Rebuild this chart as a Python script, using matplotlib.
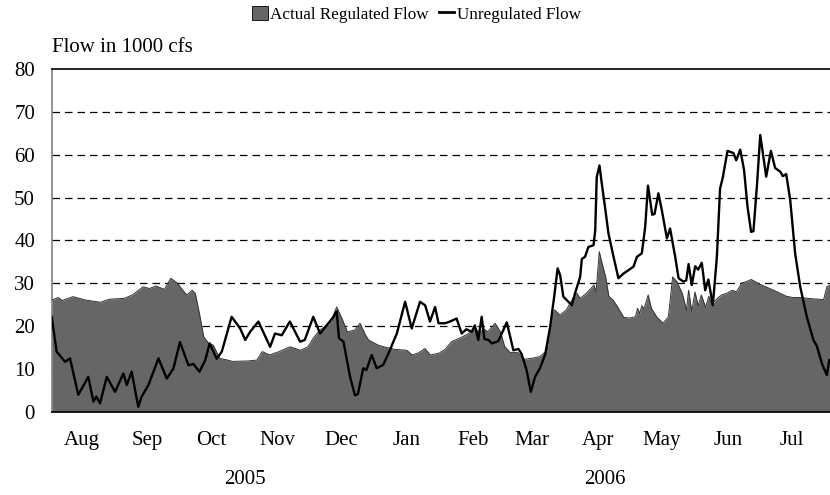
import numpy as np
import pandas as pd
import matplotlib

matplotlib.use("Agg")
import matplotlib.pyplot as plt
import matplotlib.dates as mdates
from matplotlib.patches import Patch
from matplotlib.lines import Line2D

START = mdates.date2num(pd.Timestamp("2005-08-01"))

# Actual regulated flow (1000 cfs); day = days since 1 Aug 2005
reg_day = [0, 3, 5, 10, 16, 23, 27, 34, 38, 43, 46, 49, 53, 56, 59, 61, 63.5, 66,
           67.5, 69.5, 71.5, 74, 76, 79, 82, 85, 92, 96.5, 99, 102.5, 107, 112, 117,
           120.5, 123, 126, 131, 134, 136.5, 139, 142.5, 145, 147.5, 149, 153.5, 157,
           161.5, 167, 169.5, 172.5, 175.5, 178, 182, 185, 188, 193, 196, 199, 201.5,
           203, 205, 208.5, 211, 213, 215.5, 219, 222.5, 225.5, 229.5, 233, 235, 236.5,
           239, 242, 245.5, 247, 248.5, 251.5, 255, 256, 257.5, 259, 260.5, 262, 264,
           266.5, 269, 271.5, 274.5, 275.5, 276.5, 277.5, 278.5, 280.5, 282, 284.5,
           287.5, 290, 292, 294, 296.5, 298.5, 299.5, 301, 302.5, 304, 305.5, 307.5,
           309, 310.5, 313, 315, 317.5, 320, 322, 324.5, 326.5, 329, 333, 339.5, 345.5,
           348.5, 352, 358, 363, 364.5, 366]
reg_flow = [26.1, 26.7, 26.0, 26.9, 26.1, 25.6, 26.3, 26.5, 27.3, 29.2, 28.8, 29.4,
            28.6, 31.2, 30.1, 28.8, 27.3, 28.4, 27.7, 22.9, 17.5, 15.9, 15.6, 12.5,
            12.2, 11.8, 11.9, 12.1, 14.1, 13.3, 14.1, 15.2, 14.4, 15.2, 17.2, 19.1,
            20.7, 24.5, 21.8, 18.7, 19.1, 20.7, 18.0, 16.8, 15.6, 15.1, 14.6, 14.4,
            13.3, 13.8, 14.8, 13.3, 13.7, 14.6, 16.4, 17.5, 18.3, 19.5, 18.5, 19.5,
            18.7, 20.7, 18.7, 15.3, 13.9, 13.9, 12.3, 12.5, 12.9, 14.4, 22.2, 23.8,
            22.6, 23.8, 26.9, 27.7, 26.5, 27.7, 29.6, 28.0, 37.4, 34.3, 31.5, 27.0,
            26.1, 24.2, 22.1, 21.9, 22.2, 24.2, 23.0, 24.8, 24.0, 27.3, 24.2, 22.2,
            20.7, 22.2, 31.5, 30.4, 27.7, 23.8, 28.4, 23.4, 28.0, 24.8, 27.3, 24.4,
            27.0, 25.1, 26.5, 27.3, 27.7, 28.4, 28.0, 30.1, 30.4, 30.9, 29.8, 28.4,
            27.0, 26.7, 26.7, 26.4, 26.2, 29.2, 29.6]

# Unregulated flow (1000 cfs)
unreg_day = [0, 2.3, 6.3, 8.6, 12.5, 17.2, 19.6, 21, 22.7, 25.9, 29.8, 33.7, 35.3,
             37.6, 40.7, 42.3, 45.5, 50.2, 54.1, 57.2, 60.3, 64.3, 66.6, 69.5, 72.2,
             74.3, 77.6, 80, 84.6, 88.6, 91, 93.3, 97.2, 102.7, 105, 108.2, 112, 116.8,
             119, 123, 126.2, 129.3, 132.5, 134, 135.1, 137.2, 140.3, 142.6, 144,
             146.5, 148, 150.5, 152.8, 155.9, 158.4, 162.3, 166.2, 169.3, 173.2, 175.6,
             177.9, 180.3, 181.9, 185, 187.3, 190.4, 192.8, 195, 197.5, 199, 200.6,
             202.2, 203.5, 205.4, 207, 210, 214, 217.1, 219.5, 221, 223.4, 225.3,
             227.3, 229.7, 232.1, 234.4, 236.3, 237.9, 239.1, 240.6, 243, 244.6,
             246.1, 248.5, 249.3, 250.8, 252.4, 254.8, 255.6, 256.3, 257.6, 258.7,
             260.2, 261.8, 264.2, 266.5, 268.9, 271.3, 273.6, 275.2, 277.5, 279.1,
             280.4, 282.4, 283.5, 285.3, 286.9, 289.3, 290.8, 293.2, 294.8, 297.1,
             298.4, 299.5, 301, 302.6, 304, 305.7, 307.3, 308.8, 310.9, 312.8, 314.3,
             315.5, 317.8, 320.6, 321.9, 323.8, 325.6, 327.2, 328.9, 330, 331.6,
             333.2, 336, 338.2, 340.2, 342.7, 343.8, 345.4, 347.3, 349.6, 352, 355.1,
             358.2, 359.8, 362.2, 364.5, 365.7]
unreg_flow = [22.2, 14.1, 11.7, 12.5, 4.0, 8.2, 2.4, 3.6, 2.0, 8.2, 4.7, 9.0, 6.3,
              9.4, 1.2, 3.6, 6.3, 12.5, 7.8, 10.1, 16.3, 10.9, 11.2, 9.4, 12.1, 16.0,
              12.4, 14.1, 22.2, 19.5, 16.8, 18.7, 21.1, 15.2, 18.3, 17.9, 21.1, 16.4,
              16.8, 22.2, 18.3, 20.2, 22.2, 23.5, 17.2, 16.4, 8.2, 3.9, 4.2, 10.2,
              9.8, 13.3, 10.2, 11.0, 13.7, 18.3, 25.7, 19.5, 25.7, 24.9, 21.1, 24.5,
              20.7, 20.7, 21.1, 21.8, 18.3, 19.3, 18.7, 20.2, 16.8, 22.2, 17.0, 16.8,
              16.0, 16.5, 20.9, 14.4, 14.7, 13.5, 9.6, 4.7, 8.2, 10.3, 13.5, 19.9,
              26.9, 33.5, 31.9, 26.9, 25.7, 24.9, 27.7, 31.5, 35.7, 36.2, 38.5, 38.9,
              42.4, 54.8, 57.5, 53.2, 47.8, 41.7, 36.2, 31.2, 32.3, 33.1, 33.9, 36.2,
              37.0, 43.2, 52.8, 46.0, 46.2, 51.0, 47.1, 40.5, 42.8, 36.2, 31.2, 30.4,
              30.7, 34.5, 29.6, 34.0, 33.2, 34.8, 28.4, 30.9, 24.9, 36.2, 52.1, 54.5,
              60.9, 60.4, 58.7, 61.2, 56.4, 47.9, 42.0, 42.2, 52.5, 64.6, 54.9, 60.9,
              56.9, 56.0, 55.0, 55.5, 49.4, 37.0, 29.2, 22.2, 16.8, 15.4, 11.3, 8.6,
              12.1]

month_labels = ["Aug", "Sep", "Oct", "Nov", "Dec", "Jan", "Feb", "Mar", "Apr",
                "May", "Jun", "Jul"]
year_labels = ["2005", "2006"]
year_label_dates = ["2005-10-31", "2006-04-18"]

plt.rcParams["font.family"] = ["Liberation Serif", "DejaVu Serif"]
plt.rcParams["font.size"] = 15

fig = plt.figure(figsize=(8.3, 4.95), dpi=100)
ax = fig.add_axes([0.0623, 0.1677, 0.9377, 0.6929])

reg_x = START + np.asarray(reg_day, dtype=float)
unreg_x = START + np.asarray(unreg_day, dtype=float)

ax.fill_between(reg_x, 0, reg_flow, color="#666666", linewidth=0, zorder=2)
ax.plot(reg_x, reg_flow, color="#333333", linewidth=0.7, zorder=3)
ax.plot(unreg_x, unreg_flow, color="black", linewidth=1.7, zorder=4)

ax.set_ylim(0, 80)
ax.set_yticks(range(0, 81, 10))
ax.set_xlim(START, START + 366)

for v in range(10, 80, 10):
    ax.axhline(v, color="black", linewidth=0.9, dashes=(6, 4), zorder=1)

month_starts = pd.date_range("2005-08-01", periods=12, freq="MS")
month_ticks = mdates.date2num(month_starts) + 14
ax.set_xticks(month_ticks)
ax.set_xticklabels(month_labels)
ax.tick_params(axis="x", length=0, pad=14)
ax.tick_params(axis="y", length=0, pad=12)

for lbl, d in zip(year_labels, year_label_dates):
    ax.text(mdates.date2num(pd.Timestamp(d)), -0.198, lbl,
            transform=ax.get_xaxis_transform(), ha="center", va="center")

ax.text(0.0, 1.062, "Flow in 1000 cfs", transform=ax.transAxes,
        ha="left", va="center")

ax.spines["right"].set_visible(False)
ax.spines["left"].set_color("#808080")
ax.spines["left"].set_linewidth(1.2)
ax.spines["top"].set_color("black")
ax.spines["bottom"].set_color("black")
ax.spines["top"].set_linewidth(1.2)
ax.spines["bottom"].set_linewidth(1.2)

handles = [Patch(facecolor="#666666", edgecolor="black", linewidth=0.6),
           Line2D([0], [0], color="black", linewidth=2)]
fig.legend(handles, ["Actual Regulated Flow", "Unregulated Flow"],
           loc="center", bbox_to_anchor=(0.502, 0.971), ncol=2, frameon=False,
           handlelength=0.9, handleheight=0.9, handletextpad=0.15,
           columnspacing=0.6, fontsize=12.3)

fig.savefig("out.png", dpi=100)
